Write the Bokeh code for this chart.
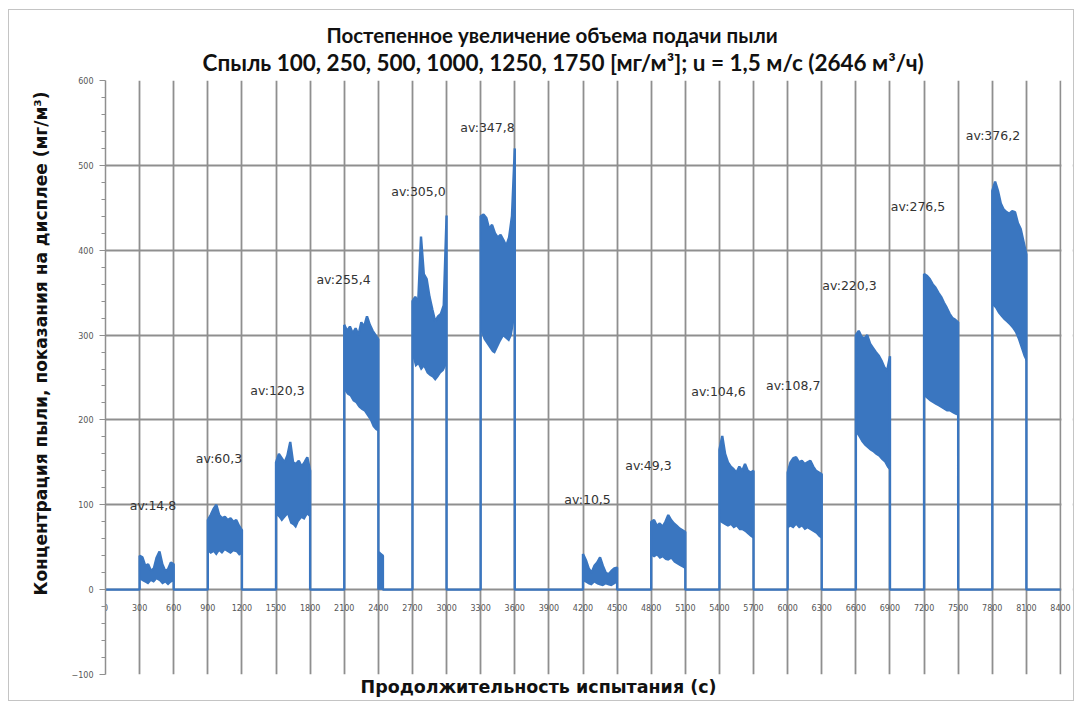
import numpy as np
from bokeh.plotting import figure
from bokeh.models import FixedTicker, Title, Range1d, BoxAnnotation
from bokeh.embed import file_html
from bokeh.resources import INLINE
from bokeh.core.properties import value

# ---------------- data ----------------
block_start = [300, 900, 1500, 2100, 2700, 3300, 4200, 4800, 5400, 6000, 6600, 7200, 7800]
sample_offsets = [0, 25, 50, 75, 100, 125, 150, 175, 200, 225, 250, 275, 300]

upper = [
    [40, 38, 28, 30, 22, 25, 38, 45, 30, 22, 24, 32, 30],
    [82, 88, 95, 100, 88, 84, 86, 82, 84, 80, 82, 75, 70],
    [150, 160, 155, 150, 158, 174, 150, 148, 152, 145, 150, 156, 140],
    [312, 305, 310, 302, 308, 300, 315, 310, 322, 312, 305, 300, 295],
    [340, 345, 338, 416, 372, 366, 345, 330, 316, 322, 325, 335, 441],
    [440, 442, 438, 425, 430, 420, 415, 418, 412, 405, 415, 440, 520],
    [42, 35, 25, 20, 28, 32, 38, 28, 20, 18, 22, 25, 26],
    [80, 82, 75, 78, 74, 80, 88, 82, 78, 75, 72, 70, 68],
    [165, 181, 160, 150, 145, 142, 138, 145, 140, 148, 140, 138, 140],
    [138, 150, 155, 156, 150, 152, 148, 150, 152, 145, 140, 138, 136],
    [300, 305, 298, 296, 300, 290, 285, 280, 276, 270, 262, 258, 275],
    [372, 370, 366, 360, 356, 350, 345, 338, 332, 325, 320, 318, 315],
    [470, 481, 470, 455, 448, 445, 443, 446, 445, 432, 425, 410, 395],
]
lower = [
    [12, 10, 8, 6, 10, 8, 12, 10, 6, 8, 5, 8, 10],
    [45, 42, 44, 40, 45, 42, 46, 44, 42, 45, 44, 40, 42],
    [88, 85, 80, 84, 88, 78, 76, 72, 80, 84, 82, 88, 85],
    [235, 230, 228, 222, 220, 215, 212, 210, 205, 200, 192, 188, 186],
    [275, 262, 265, 258, 262, 255, 252, 250, 246, 250, 255, 258, 265],
    [305, 295, 290, 285, 280, 278, 285, 292, 298, 295, 292, 300, 320],
    [10, 8, 6, 5, 8, 6, 5, 4, 6, 5, 4, 6, 8],
    [40, 38, 40, 36, 38, 35, 34, 36, 32, 30, 28, 26, 24],
    [80, 78, 76, 74, 76, 72, 74, 70, 70, 68, 65, 62, 60],
    [72, 74, 72, 76, 72, 74, 70, 72, 70, 68, 66, 62, 60],
    [185, 180, 174, 170, 167, 164, 162, 159, 157, 153, 150, 144, 140],
    [228, 225, 222, 220, 218, 216, 214, 212, 210, 210, 208, 206, 205],
    [335, 332, 326, 322, 318, 315, 312, 308, 303, 295, 285, 275, 268],
]
# short residual after the 4th step
tail_times = [2400, 2420, 2440]
tail_upper = [45, 42, 40]
tail_lower = [0, 0, 0]

avg_labels = ["av:14,8", "av:60,3", "av:120,3", "av:255,4", "av:305,0", "av:347,8",
              "av:10,5", "av:49,3", "av:104,6", "av:108,7", "av:220,3", "av:276,5", "av:376,2"]
avg_label_x = [418, 998, 1513, 2094, 2753, 3360, 4240, 4776, 5392, 6049, 6544, 7147, 7806]
avg_label_y = [99, 155, 235, 365, 469, 545, 106, 146, 234, 240, 358, 452, 535]

x_ticks = [0, 300, 600, 900, 1200, 1500, 1800, 2100, 2400, 2700, 3000, 3300, 3600, 3900, 4200,
           4500, 4800, 5100, 5400, 5700, 6000, 6300, 6600, 6900, 7200, 7500, 7800, 8100, 8400]
x_tick_labels = ["0", "300", "600", "900", "1200", "1500", "1800", "2100", "2400", "2700", "3000",
                 "3300", "3600", "3900", "4200", "4500", "4800", "5100", "5400", "5700", "6000",
                 "6300", "6600", "6900", "7200", "7500", "7800", "8100", "8400"]
y_ticks = [-100, 0, 100, 200, 300, 400, 500, 600]

title_line1 = "Постепенное увеличение объема подачи пыли"
title_line2 = "Cпыль 100, 250, 500, 1000, 1250, 1750 [мг/м³]; u = 1,5 м/с (2646 м³/ч)"
x_title = "Продолжительность испытания (с)"
y_title = "Концентрация пыли, показания на дисплее (мг/м³)"

# ---------------- figure ----------------
BLUE = "#3a76c0"
GRID = "#8f8f8f"

W, H = 1066, 692
BORDER_L, BORDER_R = 96, 3
PLOT_PX = 955            # pixel width occupied by 0..8400
frame_px = W - BORDER_L - BORDER_R
x_max = x_ticks[-1]
x_end = x_max * frame_px / PLOT_PX   # a little room so the last tick label is not clipped

p = figure(width=W, height=H, x_range=Range1d(0, x_end), y_range=Range1d(-100, 600),
           output_backend="svg", toolbar_location=None, title=None,
           min_border_left=BORDER_L, min_border_right=BORDER_R, min_border_top=70,
           min_border_bottom=28)
p.styles = {"margin-left": "8px", "margin-top": "9px", "border": "1px solid #c4c4c4"}
p.background_fill_color = "white"
p.border_fill_color = "white"
p.outline_line_color = None

# x axis drawn on the zero line (Excel style)
xax = p.xaxis[0]
xax.fixed_location = 0
xax.ticker = FixedTicker(ticks=x_ticks)
xax.major_label_overrides = {t: l for t, l in zip(x_ticks, x_tick_labels)}
xax.axis_line_color = None
xax.major_tick_line_color = None
xax.minor_tick_line_color = None
xax.major_label_standoff = 8
xax.major_label_text_font = "DejaVu Sans"
xax.major_label_text_font_size = "8px"
xax.major_label_text_color = "#555555"

p.xgrid.ticker = FixedTicker(ticks=x_ticks)
p.xgrid.grid_line_color = GRID
p.xgrid.grid_line_width = 1.8

minor = [v for v in range(-100, 601, 20) if v % 100 != 0]
p.yaxis.ticker = FixedTicker(ticks=y_ticks, minor_ticks=minor)
p.ygrid.ticker = FixedTicker(ticks=y_ticks)
p.ygrid.grid_line_color = GRID
p.ygrid.grid_line_width = 2.2
p.yaxis.axis_line_color = GRID
p.yaxis.axis_line_width = 1.5
p.yaxis.major_tick_line_color = GRID
p.yaxis.minor_tick_line_color = GRID
p.yaxis.major_tick_in = 0
p.yaxis.major_tick_out = 6
p.yaxis.minor_tick_in = 0
p.yaxis.minor_tick_out = 4
p.yaxis.major_label_text_font = "DejaVu Sans"
p.yaxis.major_label_text_font_size = "8px"
p.yaxis.major_label_text_color = "#555555"
p.yaxis.major_label_standoff = 6

# white mask right of the last grid line (the plot area ends at 8400)
px_in_data = x_end / frame_px
p.add_layout(BoxAnnotation(left=x_max + 1.0 * px_in_data, fill_color="white", fill_alpha=1.0,
                           line_color=None, level="underlay"))

# titles
TFONT = "Lato"
p.add_layout(Title(text=title_line2, align="left", offset=97, text_font=TFONT,
                   text_font_size="22.5px", text_font_style="bold", text_color="#111111",
                   standoff=10), "above")
p.add_layout(Title(text=title_line1, align="left", offset=221, text_font=TFONT,
                   text_font_size="20.5px", text_font_style="bold", text_color="#111111",
                   standoff=-11), "above")
p.add_layout(Title(text=x_title, align="left", offset=255, text_font="DejaVu Sans",
                   text_font_size="17.5px", text_font_style="bold", text_color="#111111",
                   standoff=0), "below")
p.add_layout(Title(text=y_title, align="left", offset=79, text_font="DejaVu Sans",
                   text_font_size="17px", text_font_style="bold", text_color="#111111",
                   vertical_align="top", standoff=31), "left")

# ---------------- signal ----------------
segments = []
for s, up, lo in zip(block_start, upper, lower):
    segments.append(([s + o for o in sample_offsets], up, lo))
segments.append((tail_times, tail_upper, tail_lower))
segments.sort(key=lambda seg: seg[0][0])

line_x = [0]
line_y = [0]
for ts, up, lo in segments:
    p.varea(x=ts, y1=lo, y2=up, fill_color=BLUE, fill_alpha=1.0)
    line_x += [ts[0]] + list(ts) + [ts[-1]]
    line_y += [0] + list(up) + [0]
line_x.append(x_max)
line_y.append(0)
p.line(line_x, line_y, line_color=BLUE, line_width=2.4)

# average labels
p.text(x=avg_label_x, y=avg_label_y, text=avg_labels, text_align="center",
       text_baseline="middle", text_font=value("DejaVu Sans"), text_font_size="12.5px",
       text_color="#333333")

open("out.html", "w").write(file_html(p, INLINE))
